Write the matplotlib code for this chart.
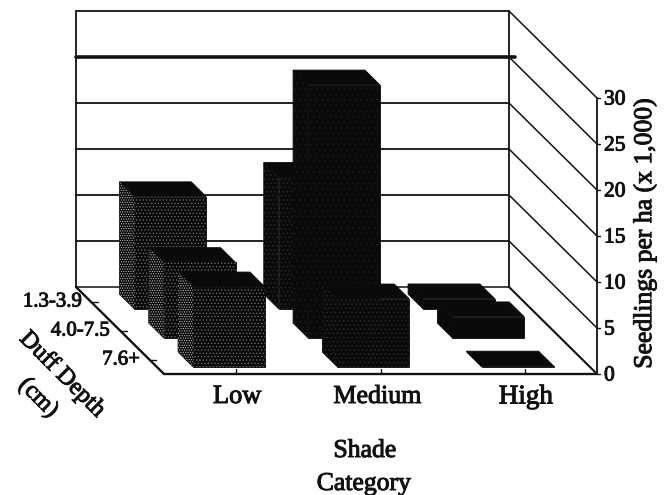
import matplotlib
matplotlib.use('Agg')
import matplotlib.pyplot as plt
from matplotlib.patches import Polygon
import matplotlib.patheffects as pe

plt.rcParams['font.family'] = ['Liberation Serif', 'DejaVu Serif']
plt.rcParams['hatch.linewidth'] = 0.5

# Data
shade = ['Low', 'Medium', 'High']
duff = ['1.3-3.9', '4.0-7.5', '7.6+']
# seedlings per ha (x 1,000), one list per duff depth, in shade order
duff_shallow = [12.2, 14.3, 1.1]
duff_middle = [8.2, 27.5, 2.3]
duff_deep = [8.7, 7.4, 0.1]
yticks = [0, 5, 10, 15, 20, 25, 30]

# oblique box, in pixels of the figure
X0, X1 = 76, 509
Y0 = 287
DX, DY = 88, 87
PER_UNIT = 9.2
BAR_W = 0.083
BAR_D = 0.085
HEAVY = [pe.withStroke(linewidth=0.7, foreground='#111111')]


def proj(c, d, v):
	return (X0 + (X1 - X0) * c + DX * d, Y0 + DY * d - PER_UNIT * v)


def line(ax, p, q, lw=1.3):
	ax.plot([p[0], q[0]], [p[1], q[1]], color='#111111', lw=lw, solid_capstyle='round', zorder=1)


def label(ax, x, y, s, size, **kw):
	ax.text(x, y, s, fontsize=size, va='center', color='#111111', path_effects=HEAVY, **kw)


def draw_bar(ax, c, d, v, front, side, z):
	c0, c1 = c - BAR_W, c + BAR_W
	d0, d1 = d - BAR_D, d + BAR_D
	left = [proj(c0, d0, 0), proj(c0, d1, 0), proj(c0, d1, v), proj(c0, d0, v)]
	top = [proj(c0, d0, v), proj(c1, d0, v), proj(c1, d1, v), proj(c0, d1, v)]
	face = [proj(c0, d1, 0), proj(c1, d1, 0), proj(c1, d1, v), proj(c0, d1, v)]
	# dark base first so no seam shows between the faces
	for poly in (left, top, face):
		ax.add_patch(Polygon(poly, facecolor='#0a0a0a', edgecolor='#0a0a0a', lw=0.6, zorder=z))
	ax.add_patch(Polygon(left, facecolor='none', edgecolor=side[0], hatch=side[1], lw=0, zorder=z))
	ax.add_patch(Polygon(face, facecolor='none', edgecolor=front[0], hatch=front[1], lw=0, zorder=z))


fig = plt.figure(figsize=(6.68, 4.95), dpi=100)
ax = fig.add_axes([0, 0, 1, 1])
ax.set_xlim(0, 668)
ax.set_ylim(495, 0)
ax.axis('off')

# back wall
for v in yticks:
	lw = 2.6 if v == 25 else 1.3
	if v > 0:
		line(ax, proj(0, 0, v), proj(1, 0, v), lw)
		line(ax, proj(1, 0, v), proj(1, 1, v), 1.1)
line(ax, proj(1, 0, 25), (515, proj(1, 0, 25)[1]), 2.6)
line(ax, proj(0, 0, 0), proj(0, 0, 30))
line(ax, proj(1, 0, 0), proj(1, 0, 30))
line(ax, proj(1, 1, 0), proj(1, 1, 30))
# floor
line(ax, proj(0, 0, 0), proj(1, 0, 0), 1.1)
line(ax, proj(0, 0, 0), proj(0, 1, 0), 1.7)
line(ax, proj(0, 1, 0), proj(1, 1, 0), 1.7)
line(ax, proj(1, 0, 0), proj(1, 1, 0), 1.5)

# ticks and tick labels
centers = [1 / 6, 1 / 2, 5 / 6]
for c, name, shift, size in zip(centers, shade, [1, -3, 1], [19, 18.7, 19.5]):
	p = proj(c, 1, 0)
	line(ax, p, (p[0], p[1] - 5), 1.0)
	label(ax, p[0] + shift, 397, name, size, ha='center')
for d, name, right in zip(centers, duff, [82, 110, 140]):
	p = proj(0, d, 0)
	line(ax, (p[0] + 2, p[1]), (p[0] + 7, p[1]), 1.0)
	label(ax, right, p[1] + 0.5, name, 15, ha='right')
for v in yticks:
	p = proj(1, 1, v)
	line(ax, p, (p[0] + 3, p[1]), 1.0)
	label(ax, 604, p[1] + 2, str(v), 15.5, ha='left')

# bars, back row first
low_front = ('#707070', '.....')
low_side = ('#c4c4c4', '.......')
med_front = ('#2e2e2e', '....')
med_tall = ('#1c1c1c', '...')
high = ('#0a0a0a', '')
rows = [duff_shallow, duff_middle, duff_deep]
for j, values in enumerate(rows):
	for i, v in enumerate(values):
		if i == 0:
			draw_bar(ax, centers[i], centers[j], v, low_front, low_side, 3 + j)
		elif i == 1:
			style = med_tall if j == 1 else med_front
			draw_bar(ax, centers[i], centers[j], v, style, style, 3 + j)
		else:
			draw_bar(ax, centers[i], centers[j], v, high, high, 3 + j)

# axis titles
label(ax, 645, 233, 'Seedlings per ha (x 1,000)', 18.5, rotation=90, ha='center')
label(ax, 365, 451, 'Shade', 18.5, ha='center')
label(ax, 364, 484, 'Category', 18.5, ha='center')
label(ax, 62, 375, 'Duff Depth', 17.5, rotation=-45, rotation_mode='anchor', ha='center')
label(ax, 38, 398, '(cm)', 17.5, rotation=-45, rotation_mode='anchor', ha='center')

fig.savefig('out.png', dpi=100)
